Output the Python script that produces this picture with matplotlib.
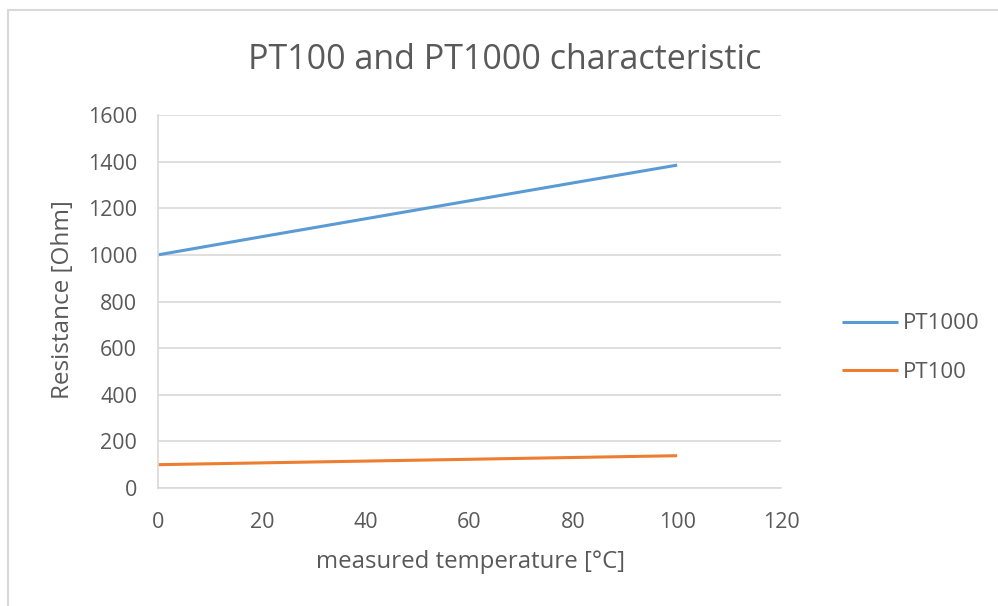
import matplotlib
matplotlib.use("Agg")
import matplotlib.pyplot as plt
from matplotlib.patches import Rectangle

temperature = [0, 20, 40, 60, 80, 100]
pt1000 = [1000, 1078, 1155, 1232, 1309, 1385]
pt100 = [100, 107.8, 115.5, 123.2, 130.9, 138.5]
x_ticks = [0, 20, 40, 60, 80, 100, 120]
y_ticks = [0, 200, 400, 600, 800, 1000, 1200, 1400, 1600]

plt.rcParams['font.family'] = ['Open Sans', 'DejaVu Sans']
TXT = '#595959'
GRID = '#d9d9d9'

W, H = 998, 606
fig = plt.figure(figsize=(W / 100, H / 100), dpi=100)
fig.patch.set_facecolor('white')

# chart frame (only left and top edges fall inside the picture)
fig.patches.append(Rectangle((8 / W, -0.1), 1.2, 1.1 - 10 / H, transform=fig.transFigure,
                             fill=False, edgecolor='#d9d9d9', linewidth=1.5))

ax = fig.add_axes([158 / W, 1 - 488 / H, (781 - 158) / W, (488 - 115) / H])
ax.plot(temperature, pt1000, color='#5b9bd5', linewidth=2.2, label='PT1000', solid_capstyle='butt')
ax.plot(temperature, pt100, color='#ed7d31', linewidth=2.2, label='PT100', solid_capstyle='butt')

ax.set_xlim(0, 120)
ax.set_ylim(0, 1600)
ax.set_xticks(x_ticks)
ax.set_yticks(y_ticks)
ax.tick_params(axis='both', length=0, labelsize=15.5, colors=TXT)
ax.tick_params(axis='x', pad=17)
ax.tick_params(axis='y', pad=15)
ax.grid(axis='y', color=GRID, linewidth=1.2)
ax.set_axisbelow(True)
for s in ['top', 'right']:
    ax.spines[s].set_visible(False)
for s in ['left', 'bottom']:
    ax.spines[s].set_color(GRID)
    ax.spines[s].set_linewidth(1.2)

fig.text(505 / W, 1 - 60 / H, 'PT100 and PT1000 characteristic', ha='center', va='center',
         fontsize=24.5, color=TXT)
fig.text(470 / W, 1 - 562 / H, 'measured temperature [°C]', ha='center', va='center',
         fontsize=17.3, color=TXT)
fig.text(63 / W, 1 - 300 / H, 'Resistance [Ohm]', ha='center', va='center', rotation=90,
         fontsize=17.5, color=TXT)

leg = fig.legend(loc='center left', bbox_to_anchor=(842 / W, 1 - 348 / H), frameon=False,
                 fontsize=16, handlelength=2.5, handletextpad=0.22, labelspacing=1.23,
                 borderpad=0, borderaxespad=0)
for t in leg.get_texts():
    t.set_color(TXT)

fig.savefig('out.png', dpi=100)
